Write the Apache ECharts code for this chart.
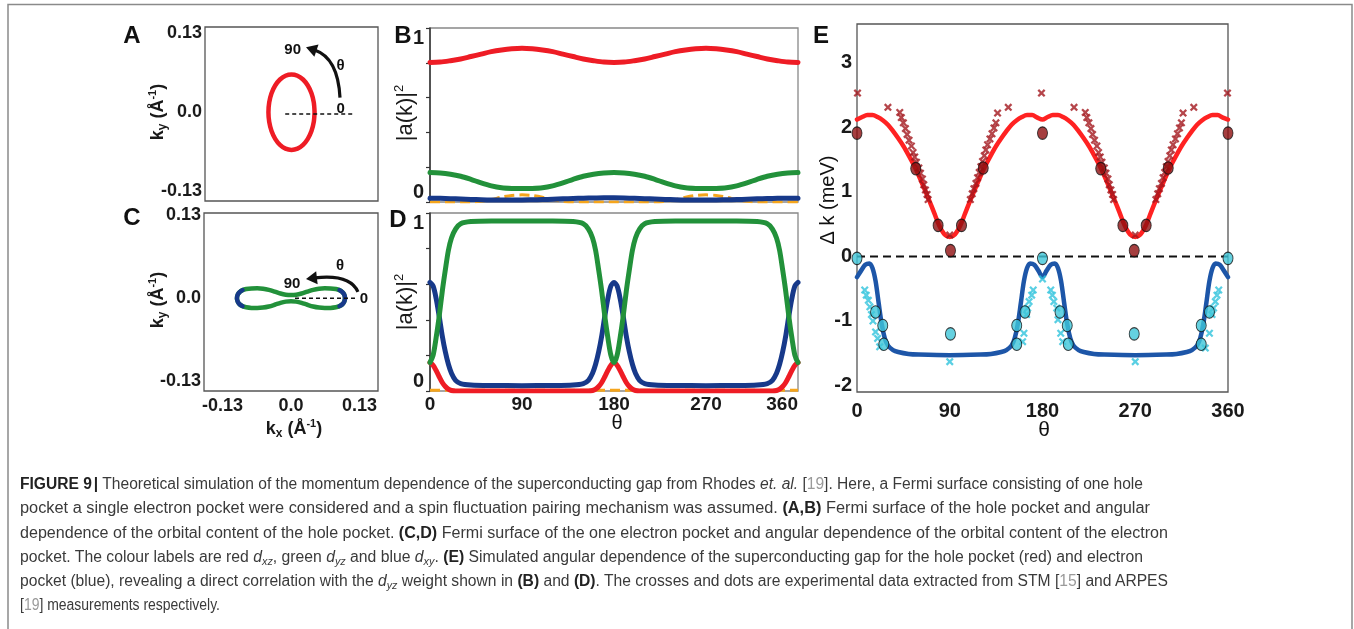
<!DOCTYPE html>
<html><head><meta charset="utf-8">
<script src="https://cdn.jsdelivr.net/npm/echarts@6/dist/echarts.min.js"></script>
<style>
html,body{margin:0;padding:0;background:#fff;}
#wrap{position:relative;width:1354px;height:629px;overflow:hidden;background:#fff;}
#chart{position:absolute;left:0;top:0;width:1354px;height:629px;}
#cap{position:absolute;left:20px;top:472px;font-family:'Liberation Sans',Arial,sans-serif;font-size:16px;color:#3a3a3a;line-height:24.3px;}
.ln{white-space:nowrap;height:24.3px;}
.ln span.t{display:inline-block;transform-origin:0 50%;}
sub{font-size:11px;vertical-align:-3px;line-height:0;}
.r{color:#9a9a9a;}
b{font-weight:bold;color:#222;}
</style></head>
<body>
<div id="wrap">
<div id="chart"></div>
<div id="cap">
<div class="ln" data-w="1123"><span class="t"><b>FIGURE 9</b><b style="margin-left:2px">|</b> Theoretical simulation of the momentum dependence of the superconducting gap from Rhodes <i>et. al.</i> [<span class="r">19</span>]. Here, a Fermi surface consisting of one hole</span></div>
<div class="ln" data-w="1130"><span class="t">pocket a single electron pocket were considered and a spin fluctuation pairing mechanism was assumed. <b>(A,B)</b> Fermi surface of the hole pocket and angular</span></div>
<div class="ln" data-w="1148"><span class="t">dependence of the orbital content of the hole pocket. <b>(C,D)</b> Fermi surface of the one electron pocket and angular dependence of the orbital content of the electron</span></div>
<div class="ln" data-w="1123"><span class="t">pocket. The colour labels are red <i>d<sub>xz</sub></i>, green <i>d<sub>yz</sub></i> and blue <i>d<sub>xy</sub></i>. <b>(E)</b> Simulated angular dependence of the superconducting gap for the hole pocket (red) and electron</span></div>
<div class="ln" data-w="1148"><span class="t">pocket (blue), revealing a direct correlation with the <i>d<sub>yz</sub></i> weight shown in <b>(B)</b> and <b>(D)</b>. The crosses and dots are experimental data extracted from STM [<span class="r">15</span>] and ARPES</span></div>
<div class="ln" data-w="200"><span class="t">[<span class="r">19</span>] measurements respectively.</span></div>
</div>
</div>
<script>
// ---------------- DATA ----------------
// Panel A: hole pocket contour (kx, ky) in 1/Å
const holePocket = [[0.044,0],[0.0425,0.0161],[0.0381,0.031],[0.0311,0.0438],[0.022,0.0537],[0.0114,0.0599],[0,0.062],
 [-0.0114,0.0599],[-0.022,0.0537],[-0.0311,0.0438],[-0.0381,0.031],[-0.0425,0.0161],[-0.044,0],
 [-0.0425,-0.0161],[-0.0381,-0.031],[-0.0311,-0.0438],[-0.022,-0.0537],[-0.0114,-0.0599],[0,-0.062],
 [0.0114,-0.0599],[0.022,-0.0537],[0.0311,-0.0438],[0.0381,-0.031],[0.0425,-0.0161],[0.044,0]];
const holeRefLine = [[-0.012,-0.003],[0.117,-0.003]];

// Panel C: electron pocket contour (green) and dxy-dominated tips (blue)
const elecPocket = [[0.1025,0],[0.1010,0.0055],[0.0975,0.0095],[0.0920,0.0125],[0.0850,0.0143],[0.0750,0.0152],[0.0640,0.0153],[0.0530,0.0147],[0.0420,0.0130],[0.0310,0.0103],[0.0200,0.0073],[0.0100,0.0054],[0,0.0048],
 [-0.0100,0.0054],[-0.0200,0.0073],[-0.0310,0.0103],[-0.0420,0.0130],[-0.0530,0.0147],[-0.0640,0.0153],[-0.0750,0.0152],[-0.0850,0.0143],[-0.0920,0.0125],[-0.0975,0.0095],[-0.1010,0.0055],[-0.1025,0],
 [-0.1010,-0.0055],[-0.0975,-0.0095],[-0.0920,-0.0125],[-0.0850,-0.0143],[-0.0750,-0.0152],[-0.0640,-0.0153],[-0.0530,-0.0147],[-0.0420,-0.0130],[-0.0310,-0.0103],[-0.0200,-0.0073],[-0.0100,-0.0054],[0,-0.0048],
 [0.0100,-0.0054],[0.0200,-0.0073],[0.0310,-0.0103],[0.0420,-0.0130],[0.0530,-0.0147],[0.0640,-0.0153],[0.0750,-0.0152],[0.0850,-0.0143],[0.0920,-0.0125],[0.0975,-0.0095],[0.1010,-0.0055],[0.1025,0]];
const elecTipRight = [[0.0920,0.0125],[0.0975,0.0095],[0.1010,0.0055],[0.1025,0],[0.1010,-0.0055],[0.0975,-0.0095],[0.0920,-0.0125]];
const elecTipLeft = [[-0.0920,0.0125],[-0.0975,0.0095],[-0.1010,0.0055],[-0.1025,0],[-0.1010,-0.0055],[-0.0975,-0.0095],[-0.0920,-0.0125]];
const elecRefLine = [[0.0076,0],[0.127,0]];
const kTicks = [-0.13, 0, 0.13];

// Panel B: orbital weights on hole pocket vs theta
const thetaB = [0,10,20,30,40,50,60,70,80,90,100,110,120,130,140,150,160,170,180,190,200,210,220,230,240,250,260,270,280,290,300,310,320,330,340,350,360];
const bRed = [0.802,0.804,0.812,0.822,0.836,0.850,0.864,0.874,0.881,0.884,0.881,0.874,0.864,0.850,0.836,0.822,0.812,0.804,0.802,
 0.804,0.812,0.822,0.836,0.850,0.864,0.874,0.881,0.884,0.881,0.874,0.864,0.850,0.836,0.822,0.812,0.804,0.802];
const bGreen = [0.169,0.167,0.160,0.148,0.130,0.110,0.093,0.082,0.078,0.077,0.078,0.082,0.093,0.110,0.130,0.148,0.160,0.167,0.169,
 0.167,0.160,0.148,0.130,0.110,0.093,0.082,0.078,0.077,0.078,0.082,0.093,0.110,0.130,0.148,0.160,0.167,0.169];
const bBlue = [0.022,0.021,0.019,0.017,0.015,0.013,0.012,0.012,0.012,0.012,0.013,0.014,0.016,0.018,0.020,0.022,0.023,0.024,0.024,
 0.023,0.021,0.019,0.017,0.015,0.013,0.012,0.012,0.012,0.012,0.013,0.014,0.016,0.018,0.020,0.021,0.022,0.022];
const bOrange = [0,0,0,0,0,0.004,0.014,0.028,0.038,0.041,0.038,0.028,0.014,0.004,0,0,0,0,0,
 0,0,0,0,0.004,0.014,0.028,0.038,0.041,0.038,0.028,0.014,0.004,0,0,0,0,0];

// Panel D: orbital weights on electron pocket vs theta
const thetaD = [0,3,6,9,12,15,18,21,25,30,40,60,90,120,140,150,155,159,162,165,168,171,174,177,180,
 183,186,189,192,195,198,201,205,210,220,240,270,300,320,330,335,339,342,345,348,351,354,357,360];
const dGreen = [0.16,0.2,0.3,0.42,0.56,0.68,0.79,0.86,0.91,0.94,0.952,0.955,0.955,0.955,0.952,0.94,0.91,0.86,0.79,0.68,0.56,0.42,0.3,0.2,0.16,
 0.2,0.3,0.42,0.56,0.68,0.79,0.86,0.91,0.94,0.952,0.955,0.955,0.955,0.952,0.94,0.91,0.86,0.79,0.68,0.56,0.42,0.3,0.2,0.16];
const dBlue = [0.61,0.59,0.52,0.42,0.31,0.22,0.15,0.1,0.06,0.042,0.034,0.031,0.03,0.031,0.034,0.042,0.06,0.1,0.15,0.22,0.31,0.42,0.52,0.59,0.61,
 0.59,0.52,0.42,0.31,0.22,0.15,0.1,0.06,0.042,0.034,0.031,0.03,0.031,0.034,0.042,0.06,0.1,0.15,0.22,0.31,0.42,0.52,0.59,0.61];
const dRed = [0.16,0.145,0.115,0.08,0.048,0.025,0.01,0.003,0,0,0,0,0,0,0,0,0,0.003,0.01,0.025,0.048,0.08,0.115,0.145,0.16,
 0.145,0.115,0.08,0.048,0.025,0.01,0.003,0,0,0,0,0,0,0,0,0,0.003,0.01,0.025,0.048,0.08,0.115,0.145,0.16];
const dOrange = [0.004,0.004,0.004,0.004,0.004,0.004,0.004,0.004,0.004,0.004,0.004,0.004,0.004,0.004,0.004,0.004,0.004,0.004,0.004,0.004,0.004,0.004,0.004,0.004,0.004,
 0.004,0.004,0.004,0.004,0.004,0.004,0.004,0.004,0.004,0.004,0.004,0.004,0.004,0.004,0.004,0.004,0.004,0.004,0.004,0.004,0.004,0.004,0.004,0.004];
const thetaTicks = [0,90,180,270,360];

// Panel E: gap (meV) vs theta
const thetaE = [0,5,10,15,20,25,30,35,40,45,50,55,60,65,70,75,80,85,90,95,100,105,110,115,120,125,130,135,140,145,150,155,160,165,170,175,180,
 185,190,195,200,205,210,215,220,225,230,235,240,245,250,255,260,265,270,275,280,285,290,295,300,305,310,315,320,325,330,335,340,345,350,355,360];
const eHoleFit = [2.12,2.16,2.19,2.19,2.16,2.11,2.04,1.94,1.83,1.71,1.57,1.42,1.25,1.06,0.87,0.67,0.47,0.34,0.3,0.34,0.47,0.67,0.87,1.06,1.25,1.42,1.57,1.71,1.83,1.94,2.04,2.11,2.16,2.19,2.19,2.15,2.12,
 2.16,2.19,2.19,2.16,2.11,2.04,1.94,1.83,1.71,1.57,1.42,1.25,1.06,0.87,0.67,0.47,0.34,0.3,0.34,0.47,0.67,0.87,1.06,1.25,1.42,1.57,1.71,1.83,1.94,2.04,2.11,2.16,2.19,2.19,2.15,2.12];
const eElecFit = [[0,-0.32],[4,-0.22],[8,-0.13],[12,-0.11],[15,-0.18],[18,-0.38],[21,-0.72],[24,-1.05],[27,-1.27],[30,-1.38],[35,-1.45],[40,-1.48],[50,-1.51],[60,-1.52],[90,-1.53],[120,-1.52],[130,-1.51],[140,-1.48],[145,-1.45],[150,-1.38],[153,-1.27],[156,-1.05],[159,-0.72],[162,-0.38],[165,-0.18],[168,-0.11],[172,-0.13],[176,-0.22],[180,-0.32],
 [184,-0.22],[188,-0.13],[192,-0.11],[195,-0.18],[198,-0.38],[201,-0.72],[204,-1.05],[207,-1.27],[210,-1.38],[215,-1.45],[220,-1.48],[230,-1.51],[240,-1.52],[270,-1.53],[300,-1.52],[310,-1.51],[320,-1.48],[325,-1.45],[330,-1.38],[333,-1.27],[336,-1.05],[339,-0.72],[342,-0.38],[345,-0.18],[348,-0.11],[352,-0.13],[356,-0.22],[360,-0.32]];
const eHoleSTM = [[0.5,2.53],[30,2.31],[41.5,2.23],[43,2.15],[45,2.07],[47,1.98],[48.6,1.89],[50.5,1.80],[52.8,1.71],[54.4,1.61],[56,1.54],[57.7,1.46],[60,1.37],[61.6,1.29],[63.5,1.2],[64.8,1.11],[66.4,1.03],[68,0.96],[69,0.88],
 [90,0.33],[110,0.88],[111.8,0.97],[113.4,1.05],[115.4,1.13],[117,1.22],[118.6,1.3],[120.2,1.39],[121.8,1.47],[123.5,1.56],[125,1.65],[126.7,1.73],[129,1.82],[131,1.9],[132.9,1.99],[134.8,2.07],[136.4,2.22],[146.8,2.31],[179,2.53],
 [210.6,2.31],[221.5,2.23],[223,2.15],[225,2.07],[227,1.98],[228.6,1.89],[230.5,1.8],[232.8,1.71],[234.4,1.61],[236,1.54],[237.7,1.46],[240,1.37],[241.6,1.29],[243.5,1.2],[244.8,1.11],[246.4,1.03],[248,0.96],[249,0.88],
 [270,0.33],[290,0.88],[291.8,0.97],[293.4,1.05],[295.4,1.13],[297,1.22],[298.6,1.3],[300.2,1.39],[301.8,1.47],[303.5,1.56],[305,1.65],[306.7,1.73],[309,1.82],[311,1.9],[312.9,1.99],[314.8,2.07],[316.4,2.22],[326.8,2.31],[359.5,2.53]];
const eElecSTM = [[7.5,-0.52],[9,-0.6],[11,-0.68],[12.5,-0.78],[14,-0.9],[15.5,-1.0],[18,-1.17],[20,-1.27],[22,-1.4],
 [160.7,-1.32],[162,-1.19],[164.6,-0.9],[165.6,-0.8],[167,-0.7],[169.5,-0.6],[171,-0.52],[180,-0.35],
 [188,-0.52],[189.6,-0.6],[191,-0.7],[193.8,-0.8],[195,-0.98],[197.7,-1.19],[199.6,-1.32],[90,-1.63],[270,-1.63],
 [338,-1.42],[342,-1.19],[344.5,-0.9],[346,-0.8],[347.7,-0.7],[349.3,-0.6],[351,-0.52]];
const eHoleARPES = [[0,1.91],[57,1.36],[78.7,0.48],[90.7,0.09],[101.4,0.48],[122.5,1.37],[180,1.91],[236.5,1.36],[258,0.48],[269,0.09],[280.6,0.48],[302,1.37],[360,1.91]];
const eElecARPES = [[0,-0.03],[18,-0.86],[25,-1.07],[26,-1.36],[90.7,-1.2],[155,-1.07],[155,-1.36],[163,-0.86],[180,-0.03],[197,-0.86],[204,-1.07],[205,-1.36],[269,-1.2],[334,-1.07],[334,-1.36],[342,-0.86],[360,-0.03]];
const eZeroLine = [[0,0],[360,0]];
const eYTicks = [-2,-1,0,1,2,3];
const wTicks = [0,0.2,0.4,0.6,0.8,1];

// ---------------- STYLE / LAYOUT ----------------
const F = "'Liberation Sans', Arial, Helvetica, sans-serif";
const RED = '#ee1c25', GREEN = '#22913a', NAVY = '#17398a', ORANGE = '#f5a51c';
const zip = (xs, ys) => xs.map((x, i) => [x, ys[i]]);
const fmtK = v => (Math.abs(v) < 1e-9 ? '0.0' : v.toFixed(2));
const lbl = (size, extra) => Object.assign({fontFamily: F, fontSize: size, fontWeight: 'bold', color: '#1a1a1a'}, extra || {});
const off = {axisLine: {show: false}, axisTick: {show: false}, splitLine: {show: false}};
const XSYM = 'path://M2,0 L5,3 L8,0 L10,2 L7,5 L10,8 L8,10 L5,7 L2,10 L0,8 L3,5 L0,2 Z';

const gridBase = {show: true, borderColor: '#555', borderWidth: 1.3, backgroundColor: 'transparent', containLabel: false, outerBoundsMode: 'none'};
const grids = [
  Object.assign({left: 205, top: 27, width: 173, height: 174}, gridBase),
  Object.assign({left: 430, top: 28, width: 368, height: 174}, gridBase, {borderColor: '#888'}),
  Object.assign({left: 204, top: 213, width: 174, height: 178}, gridBase),
  Object.assign({left: 430, top: 213, width: 368, height: 178}, gridBase, {borderColor: '#888'}),
  Object.assign({left: 857, top: 24, width: 371, height: 368}, gridBase)
];

const xAxes = [
  Object.assign({gridIndex: 0, type: 'value', min: -0.165, max: 0.165, axisLabel: {show: false}}, off),
  Object.assign({gridIndex: 1, type: 'value', min: 0, max: 360, interval: 90, axisLabel: {show: false}}, off),
  Object.assign({gridIndex: 2, type: 'value', min: -0.165, max: 0.165,
    axisLabel: lbl(18, {customValues: kTicks, formatter: fmtK, margin: 6, showMinLabel: true, showMaxLabel: true})}, off),
  Object.assign({gridIndex: 3, type: 'value', min: 0, max: 360, interval: 90,
    axisLabel: lbl(19, {customValues: thetaTicks, margin: 4, alignMaxLabel: 'right', showMinLabel: true, showMaxLabel: true})}, off),
  Object.assign({gridIndex: 4, type: 'value', min: 0, max: 360, interval: 90,
    axisLabel: lbl(20, {customValues: thetaTicks, margin: 9, showMinLabel: true, showMaxLabel: true})}, off)
];
const wAxis = (gi) => ({gridIndex: gi, type: 'value', min: 0, max: 1, interval: 0.2,
  axisLine: {show: true, lineStyle: {color: '#333', width: 1.5}},
  axisTick: {show: true, customValues: wTicks, length: 4, inside: false, lineStyle: {color: '#333', width: 1.2}},
  splitLine: {show: false},
  axisLabel: lbl(20, {customValues: [0, 1], margin: 6, verticalAlignMinLabel: 'bottom', verticalAlignMaxLabel: 'top', showMinLabel: true, showMaxLabel: true})});
const yAxes = [
  Object.assign({gridIndex: 0, type: 'value', min: -0.146, max: 0.140,
    axisLabel: lbl(18, {customValues: kTicks, formatter: fmtK, margin: 3, showMinLabel: true, showMaxLabel: true})}, off),
  wAxis(1),
  Object.assign({gridIndex: 2, type: 'value', min: -0.145, max: 0.133,
    axisLabel: lbl(18, {customValues: kTicks, formatter: fmtK, margin: 3, showMinLabel: true, showMaxLabel: true})}, off),
  wAxis(3),
  Object.assign({gridIndex: 4, type: 'value', min: -2.1, max: 3.6,
    axisLabel: lbl(20, {customValues: eYTicks, margin: 5, showMinLabel: true, showMaxLabel: true})}, off)
];

function line(gi, data, color, width, extra) {
  return Object.assign({type: 'line', xAxisIndex: gi, yAxisIndex: gi, data: data, symbol: 'none', showSymbol: false,
    lineStyle: {color: color, width: width, cap: 'round', join: 'round'}, itemStyle: {color: color}, silent: true, clip: true}, extra || {});
}
function scat(gi, data, symbol, size, style, z) {
  return {type: 'scatter', xAxisIndex: gi, yAxisIndex: gi, data: data, symbol: symbol, symbolSize: size, itemStyle: style, silent: true, z: z, clip: false};
}

const series = [
  // A
  line(0, holePocket, RED, 4.5, {smooth: 0.3}),
  line(0, holeRefLine, '#111', 1.5, {lineStyle: {color: '#111', width: 1.5, type: [4, 3]}}),
  // B
  line(1, zip(thetaB, bOrange), ORANGE, 3, {smooth: 0.3, lineStyle: {color: ORANGE, width: 3, type: [10, 5]}}),
  line(1, zip(thetaB, bBlue), NAVY, 5, {smooth: 0.3}),
  line(1, zip(thetaB, bGreen), GREEN, 5, {smooth: 0.3}),
  line(1, zip(thetaB, bRed), RED, 5, {smooth: 0.3}),
  // C
  line(2, elecPocket, GREEN, 4.5, {smooth: 0.3}),
  line(2, elecTipRight, NAVY, 4.5, {smooth: 0.3}),
  line(2, elecTipLeft, NAVY, 4.5, {smooth: 0.3}),
  line(2, elecRefLine, '#111', 1.5, {lineStyle: {color: '#111', width: 1.5, type: [4, 3]}}),
  // D
  line(3, zip(thetaD, dOrange), ORANGE, 3, {lineStyle: {color: ORANGE, width: 3, type: [10, 5]}}),
  line(3, zip(thetaD, dRed), RED, 5, {smooth: 0.3}),
  line(3, zip(thetaD, dBlue), NAVY, 5, {smooth: 0.3}),
  line(3, zip(thetaD, dGreen), GREEN, 5, {smooth: 0.3}),
  // E
  line(4, eZeroLine, '#111', 2, {lineStyle: {color: '#111', width: 2, type: [8, 5]}}),
  line(4, zip(thetaE, eHoleFit), '#ff2222', 4.5, {smooth: 0.3}),
  line(4, eElecFit, '#1d56a8', 4.5, {smooth: 0.3}),
  scat(4, eHoleSTM, XSYM, 8, {color: '#a3161d'}, 5),
  scat(4, eElecSTM, XSYM, 8, {color: '#2fc3dc'}, 5),
  scat(4, eHoleARPES, 'circle', [10, 12.5], {color: '#8e0f10', borderColor: '#111', borderWidth: 1}, 6),
  scat(4, eElecARPES, 'circle', [10, 12.5], {color: '#3fc6d8', borderColor: '#111', borderWidth: 1}, 6)
];

const chart = echarts.init(document.getElementById('chart'), null, {renderer: 'canvas', width: 1354, height: 629});
chart.setOption({animation: false, backgroundColor: '#fff', grid: grids, xAxis: xAxes, yAxis: yAxes, series: series});

// ---------------- ANNOTATIONS ----------------
function txt(x, y, text, size, weight, extra) {
  return Object.assign({type: 'text', x: x, y: y, z: 10,
    style: {text: text, fontFamily: F, fontSize: size, fontWeight: weight || 'bold', fill: '#111', align: 'center', verticalAlign: 'middle'}}, extra || {});
}
function richTxt(x, y, text, rich, rot) {
  return {type: 'text', x: x, y: y, rotation: rot || 0, z: 10,
    style: {text: text, rich: rich, align: 'center', verticalAlign: 'middle', fill: '#111'}};
}
const kRich = {
  a: {fontFamily: F, fontSize: 18, fontWeight: 'bold', fill: '#1a1a1a', lineHeight: 22},
  s: {fontFamily: F, fontSize: 12, fontWeight: 'bold', fill: '#1a1a1a', lineHeight: 12, verticalAlign: 'bottom'},
  p: {fontFamily: F, fontSize: 11, fontWeight: 'bold', fill: '#1a1a1a', lineHeight: 12, verticalAlign: 'top'}
};
const wRich = {
  a: {fontFamily: F, fontSize: 22, fill: '#1a1a1a', lineHeight: 26},
  p: {fontFamily: F, fontSize: 13, fill: '#1a1a1a', lineHeight: 14, verticalAlign: 'top'}
};
function arrowG(gi, base, cp, tip) {
  const p0 = chart.convertToPixel({gridIndex: gi}, base);
  const pc = chart.convertToPixel({gridIndex: gi}, cp);
  const pt = chart.convertToPixel({gridIndex: gi}, tip);
  let dx = pt[0] - pc[0], dy = pt[1] - pc[1];
  const L = Math.hypot(dx, dy); dx /= L; dy /= L;
  const hl = 11, hw = 6.5;
  const bx = pt[0] - dx * hl, by = pt[1] - dy * hl;
  return [
    {type: 'bezierCurve', z: 10, shape: {x1: p0[0], y1: p0[1], x2: bx + dx * 2, y2: by + dy * 2, cpx1: pc[0], cpy1: pc[1]},
      style: {stroke: '#111', lineWidth: 3.2, fill: 'none'}},
    {type: 'polygon', z: 10, shape: {points: [[pt[0], pt[1]], [bx - dy * hw, by + dx * hw], [bx + dy * hw, by - dx * hw]]}, style: {fill: '#111'}}
  ];
}
function dataTxt(gi, pos, text, size) {
  const p = chart.convertToPixel({gridIndex: gi}, pos);
  return txt(p[0], p[1], text, size, 'bold');
}
const annA = {base: [0.0925, 0.0238], cp: [0.0887, 0.0891], tip: [0.0277, 0.1069], l90: [0.0023, 0.1023], lTh: [0.0938, 0.0765], l0: [0.0938, 0.0053]};
const annC = {base: [0.127, 0.0097], cp: [0.112, 0.0378], tip: [0.0284, 0.030], l90: [0.002, 0.022], lTh: [0.093, 0.05], l0: [0.1385, -0.001]};

const graphics = [
  {type: 'rect', z: -1, shape: {x: 8, y: 4.5, width: 1344, height: 700}, style: {fill: 'none', stroke: '#8a8a8a', lineWidth: 1.5}},
  txt(132, 36, 'A', 24, 'bold'), txt(403, 36, 'B', 24, 'bold'), txt(132, 218, 'C', 24, 'bold'),
  txt(398, 220, 'D', 24, 'bold'), txt(821, 36, 'E', 24, 'bold'),
  richTxt(158, 112, '{a|k}{s|y}{a| (Å}{p|-1}{a|)}', kRich, Math.PI / 2),
  richTxt(158, 300, '{a|k}{s|y}{a| (Å}{p|-1}{a|)}', kRich, Math.PI / 2),
  richTxt(294, 429, '{a|k}{s|x}{a| (Å}{p|-1}{a|)}', kRich, 0),
  richTxt(406, 113, '{a||a(k)|}{p|2}', wRich, Math.PI / 2),
  richTxt(406, 302, '{a||a(k)|}{p|2}', wRich, Math.PI / 2),
  txt(617, 423, 'θ', 20, 'normal'),
  txt(1044, 430, 'θ', 21, 'normal'),
  txt(828, 200, 'Δ k (meV)', 20, 'normal', {rotation: Math.PI / 2}),
  ...arrowG(0, annA.base, annA.cp, annA.tip),
  dataTxt(0, annA.l90, '90', 15), dataTxt(0, annA.lTh, 'θ', 15), dataTxt(0, annA.l0, '0', 15),
  ...arrowG(2, annC.base, annC.cp, annC.tip),
  dataTxt(2, annC.l90, '90', 15), dataTxt(2, annC.lTh, 'θ', 15), dataTxt(2, annC.l0, '0', 15)
];
chart.setOption({graphic: graphics});

// ---------------- CAPTION FIT ----------------
function fitCaption() {
  document.querySelectorAll('#cap .ln').forEach(function (ln) {
    const sp = ln.querySelector('span.t');
    sp.style.transform = 'none';
    const w = sp.getBoundingClientRect().width;
    const target = parseFloat(ln.getAttribute('data-w'));
    if (w > 0) sp.style.transform = 'scaleX(' + (target / w).toFixed(4) + ')';
  });
}
fitCaption();
if (document.fonts && document.fonts.ready) document.fonts.ready.then(fitCaption);
</script>
</body></html>
